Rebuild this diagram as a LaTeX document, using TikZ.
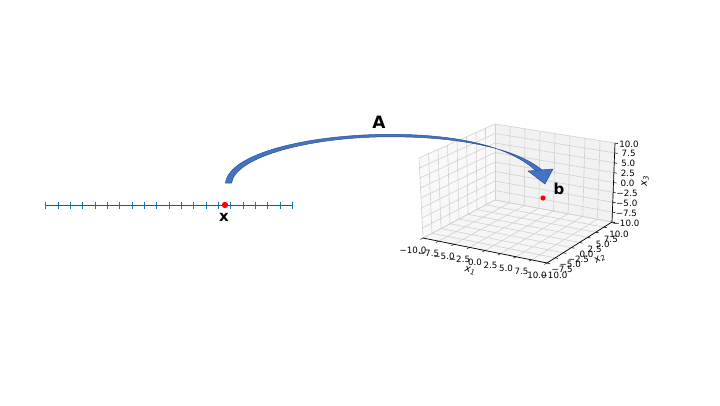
\documentclass[tikz,border=0pt]{standalone}
\usepackage{fontspec}
\setmainfont{DejaVu Sans}
\usepackage{tikz}
\usetikzlibrary{calc}
\definecolor{arrowblue}{HTML}{4472C4}
\definecolor{arrowedge}{HTML}{2F528F}
\definecolor{tickblue}{HTML}{1F77B4}
\definecolor{paneA}{gray}{0.975}
\definecolor{paneB}{gray}{0.95}
\definecolor{paneC}{gray}{0.9625}
\definecolor{gridgray}{gray}{0.82}
\def\tk{\fontsize{8.7}{10}\selectfont}
\def\bigbf{\fontsize{15}{18}\selectfont\bfseries}

\begin{document}
\begin{tikzpicture}[x=1pt,y=-1pt]
  \useasboundingbox (0,0) rectangle (720,405); %画像の範囲

  % 数直線
  \coordinate (LS) at (45.7,205); %左端
  \coordinate (LL) at (292.3,205); %右端
  \draw[line width=1pt,black!70] (LS)--(LL); %数直線
  \foreach \i in {0,...,20}
    \draw[tickblue,line width=0.7pt] ($(LS)!\i/20!(LL)$) +(0,-3.5) -- +(0,3.5); %目盛り
  \coordinate (X) at (225,205); %点x
  \fill[red] (X) circle (3.2); %点の塗りつぶし
  \node[font=\bigbf] (xlab) at (224,217) {x}; %ラベル

  % 3次元座標の箱
  \coordinate (P000) at (423,238); %手前左下
  \coordinate (P100) at (547,263); %手前下
  \coordinate (P110) at (612,222); %右下
  \coordinate (P010) at (495,200); %奥下
  \coordinate (P001) at (419,158); %左上
  \coordinate (P011) at (495,124); %奥上
  \coordinate (P111) at (615,143); %右上
  \fill[paneA] (P000)--(P010)--(P011)--(P001)--cycle; %左の面
  \fill[paneB] (P010)--(P110)--(P111)--(P011)--cycle; %奥の面
  \fill[paneC] (P000)--(P100)--(P110)--(P010)--cycle; %床の面
  \foreach \i in {0,...,8}{
    \draw[gridgray,line width=0.6pt] ($(P000)!\i/8!(P100)$)--($(P010)!\i/8!(P110)$); %床
    \draw[gridgray,line width=0.6pt] ($(P000)!\i/8!(P010)$)--($(P100)!\i/8!(P110)$); %床
    \draw[gridgray,line width=0.6pt] ($(P000)!\i/8!(P010)$)--($(P001)!\i/8!(P011)$); %左の面
    \draw[gridgray,line width=0.6pt] ($(P000)!\i/8!(P001)$)--($(P010)!\i/8!(P011)$); %左の面
    \draw[gridgray,line width=0.6pt] ($(P010)!\i/8!(P110)$)--($(P011)!\i/8!(P111)$); %奥の面
    \draw[gridgray,line width=0.6pt] ($(P010)!\i/8!(P011)$)--($(P110)!\i/8!(P111)$); %奥の面
  }
  \draw[line width=0.7pt] (P000)--(P100); %x1軸
  \draw[line width=0.7pt] (P100)--(P110); %x2軸
  \draw[line width=0.7pt] (P110)--(P111); %x3軸
  \foreach \i/\v in {0/−10.0,1/−7.5,2/−5.0,3/−2.5,4/0.0,5/2.5,6/5.0,7/7.5,8/10.0}{
    \draw[line width=0.5pt] ($(P000)!\i/8!(P100)$) -- +(-2.6,1.4); %x1目盛り
    \draw[line width=0.5pt] ($(P100)!\i/8!(P110)$) -- +(3,0.6); %x2目盛り
    \draw[line width=0.5pt] ($(P110)!\i/8!(P111)$) -- +(3,0.6); %x3目盛り
    \node[font=\tk] (xa\i) at ($(P000)!\i/8!(P100)+(-10,12)$) {\v};
    \node[font=\tk] (xb\i) at ($(P100)!\i/8!(P110)+(7,12)$) {\v};
    \node[font=\tk] (xc\i) at ($(P110)!\i/8!(P111)+(14,1)$) {\v};
  }
  \node[font=\fontsize{10}{12}\selectfont\itshape,rotate=-11] (xone) at (470,271) {x\textsubscript{1}}; %軸ラベル
  \node[font=\fontsize{10}{12}\selectfont\itshape,rotate=32] (xtwo) at (600,259) {x\textsubscript{2}};
  \node[font=\fontsize{10}{12}\selectfont\itshape,rotate=90] (xthree) at (645,181) {x\textsubscript{3}};

  % 点b
  \coordinate (B) at (543,198);
  \fill[red] (B) circle (2.6);
  \node[font=\bigbf] (blab) at (559,189) {b};

  % 写像Aの矢印
  \coordinate (AS) at (225.5,183); %根元左
  \coordinate (AR) at (231.5,183); %根元右
  \coordinate (HL) at (528,171); %矢じり左
  \coordinate (HR) at (553,169); %矢じり右
  \coordinate (HT) at (545,184); %矢じり先端
  \fill[arrowblue,draw=arrowedge,line width=0.5pt] (AS) .. controls (229,153) and (310,134.3) .. (390,134.3)
    .. controls (462,134.3) and (512,148) .. (536,171) -- (542,170)
    .. controls (517,149) and (462,136.8) .. (390,136.8)
    .. controls (312,136.8) and (236,156) .. (AR) -- cycle;
  \fill[arrowblue,draw=arrowedge,line width=0.5pt] (HL)--(HR)--(HT)--cycle;
  \node[font=\fontsize{17}{20}\selectfont\bfseries] (Alab) at (379,122) {A};
\end{tikzpicture}
\end{document}
